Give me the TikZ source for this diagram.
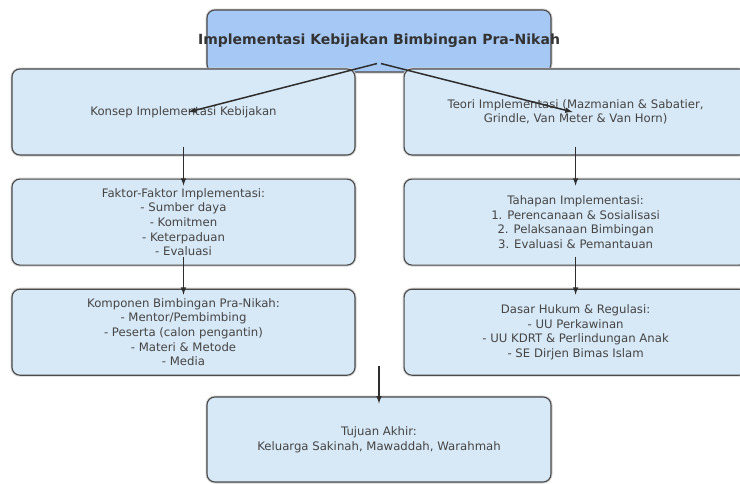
\documentclass[tikz,border=0pt]{standalone}
\usepackage{fontspec}
\setmainfont{DejaVu Sans}
\usetikzlibrary{positioning}

\definecolor{headfill}{HTML}{A6C8F4}
\definecolor{boxfill}{HTML}{D7E8F6}
\definecolor{boxline}{HTML}{4A4A4A}
\definecolor{boxtext}{HTML}{454545}
\definecolor{arrowline}{HTML}{2E2E2E}

\begin{document}
\begin{tikzpicture}[x=1pt, y=-1pt, node distance=23pt, >=latex,
    box/.style={draw=boxline, line width=1.1pt, fill=boxfill, rounded corners=8pt,
        minimum width=343pt, minimum height=86pt, inner sep=0pt, align=center,
        text=boxtext, font=\fontsize{11.7}{14.6}\selectfont,
        preaction={draw=black!18, line width=3pt}},
    head/.style={box, fill=headfill, minimum width=344pt, minimum height=62pt},
    headtext/.style={inner sep=0pt, text=black!80, font=\bfseries\fontsize{14}{16}\selectfont},
    flow/.style={draw=arrowline, line width=1.5pt, ->}]
    \useasboundingbox (0,0) rectangle (740,483);

    \node[head] (top) at (379,41) {};
    \node[headtext] (title) at (top.center) {Implementasi Kebijakan Bimbingan Pra-Nikah};

    \node[box] (konsep) at (183.5,112) {Konsep Implementasi Kebijakan};
    \node[box, right=48pt of konsep] (teori) {Teori Implementasi (Mazmanian \& Sabatier,\\ Grindle, Van Meter \& Van Horn)};

    \node[box, below=of konsep] (faktor) {Faktor-Faktor Implementasi:\\ - Sumber daya\\ - Komitmen\\ - Keterpaduan\\ - Evaluasi};
    \node[box, below=of teori] (tahapan) {Tahapan Implementasi:\\ 1. Perencanaan \& Sosialisasi\\ 2. Pelaksanaan Bimbingan\\ 3. Evaluasi \& Pemantauan};

    \node[box, below=of faktor] (komponen) {Komponen Bimbingan Pra-Nikah:\\ - Mentor/Pembimbing\\ - Peserta (calon pengantin)\\ - Materi \& Metode\\ - Media};
    \node[box, below=of tahapan] (dasar) {Dasar Hukum \& Regulasi:\\ - UU Perkawinan\\ - UU KDRT \& Perlindungan Anak\\ - SE Dirjen Bimas Islam};

    \node[box, minimum width=344pt, minimum height=85pt] (tujuan) at (379,439.5) {Tujuan Akhir:\\ Keluarga Sakinah, Mawaddah, Warahmah};
    \coordinate (gap) at ([yshift=30pt]tujuan.north);

    \draw[flow] ([xshift=-2pt, yshift=9pt]top.south) -- ([xshift=5pt]konsep.center);
    \draw[flow] ([xshift=2pt, yshift=9pt]top.south) -- ([xshift=-3pt]teori.center);

    \draw[flow] ([yshift=9pt]konsep.south) -- ([yshift=-7pt]faktor.north);
    \draw[flow] ([yshift=9pt]faktor.south) -- ([yshift=-6pt]komponen.north);
    \draw[flow] ([yshift=9pt]teori.south) -- ([yshift=-7pt]tahapan.north);
    \draw[flow] ([yshift=9pt]tahapan.south) -- ([yshift=-6pt]dasar.north);

    \draw[flow] (gap) -- ([yshift=-7pt]tujuan.north);
  \end{tikzpicture}
\end{document}
